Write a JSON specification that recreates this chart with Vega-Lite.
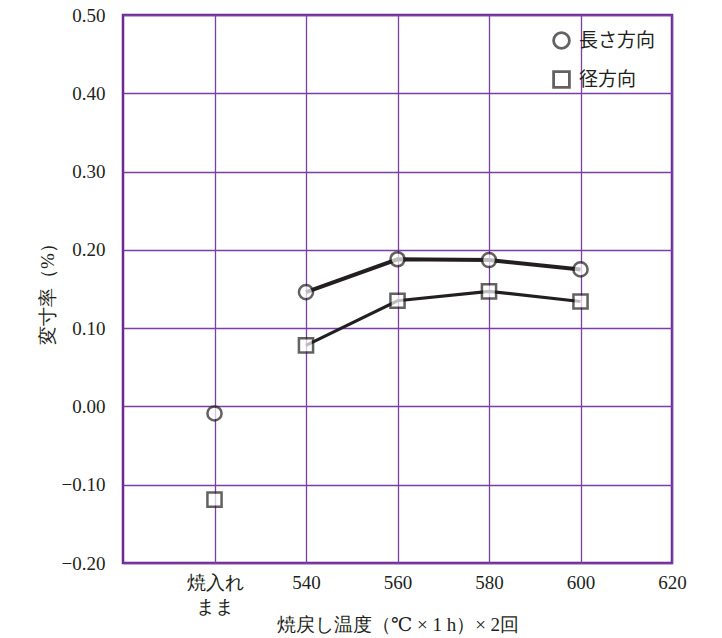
{
  "$schema": "https://vega.github.io/schema/vega-lite/v6.json",
  "autosize": {"type": "none"},
  "width": 549,
  "height": 548,
  "padding": {"left": 123, "top": 15, "right": 50, "bottom": 75},
  "background": "white",
  "config": {
    "view": {"stroke": "#6a2a93", "strokeWidth": 2.5},
    "font": "Liberation Serif, DejaVu Serif, serif"
  },
  "data": {
    "values": [
      {"temp": 520, "dir": "長さ方向", "value": -0.009},
      {"temp": 540, "dir": "長さ方向", "value": 0.146},
      {"temp": 560, "dir": "長さ方向", "value": 0.188},
      {"temp": 580, "dir": "長さ方向", "value": 0.187},
      {"temp": 600, "dir": "長さ方向", "value": 0.175},
      {"temp": 520, "dir": "径方向", "value": -0.119},
      {"temp": 540, "dir": "径方向", "value": 0.078},
      {"temp": 560, "dir": "径方向", "value": 0.135},
      {"temp": 580, "dir": "径方向", "value": 0.147},
      {"temp": 600, "dir": "径方向", "value": 0.134}
    ]
  },
  "encoding": {
    "x": {
      "field": "temp", "type": "quantitative",
      "scale": {"domain": [500, 620], "nice": false, "zero": false},
      "axis": {
        "values": [520, 540, 560, 580, 600, 620],
        "labelExpr": "datum.value == 520 ? ['焼入れ', 'まま'] : datum.label",
        "title": "焼戻し温度（℃ × 1 h）× 2回",
        "domain": false, "ticks": false,
        "grid": true, "gridColor": "#7b3ea6", "gridWidth": 1.3, "gridOpacity": 1,
        "labelFont": "Liberation Serif, DejaVu Serif, serif", "labelFontSize": 19, "labelColor": "#231f20",
        "labelPadding": 10, "labelLineHeight": 24, "labelFlush": false,
        "titleFont": "Liberation Serif, DejaVu Serif, serif", "titleFontSize": 19, "titleFontWeight": "normal", "titleColor": "#231f20",
        "titlePadding": -1
      }
    },
    "y": {
      "field": "value", "type": "quantitative",
      "scale": {"domain": [-0.2, 0.5], "nice": false, "zero": false},
      "axis": {
        "values": [-0.2, -0.1, 0, 0.1, 0.2, 0.3, 0.4, 0.5],
        "format": ".2f",
        "title": "変寸率（%）",
        "domain": false, "ticks": false,
        "grid": true, "gridColor": "#7b3ea6", "gridWidth": 1.3, "gridOpacity": 1,
        "labelFont": "Liberation Serif, DejaVu Serif, serif", "labelFontSize": 19, "labelColor": "#231f20",
        "labelPadding": 18, "labelFlush": false,
        "titleFont": "Liberation Serif, DejaVu Serif, serif", "titleFontSize": 19, "titleFontWeight": "normal", "titleColor": "#231f20",
        "titlePadding": 4
      }
    }
  },
  "layer": [
    {
      "transform": [{"filter": "datum.temp > 520 && datum.dir == '長さ方向'"}],
      "mark": {"type": "line", "color": "#231f20", "strokeWidth": 4},
      "encoding": {}
    },
    {
      "transform": [{"filter": "datum.temp > 520 && datum.dir == '径方向'"}],
      "mark": {"type": "line", "color": "#231f20", "strokeWidth": 3.2},
      "encoding": {}
    },
    {
      "mark": {"type": "point", "color": "#231f20", "fill": "white", "strokeWidth": 2.5, "size": 200},
      "encoding": {
        "shape": {
          "field": "dir", "type": "nominal",
          "scale": {"domain": ["長さ方向", "径方向"], "range": ["circle", "square"]},
          "legend": {
            "title": null,
            "orient": "top-right",
            "offset": 16,
            "labelFont": "Noto Sans CJK JP",
            "labelFontSize": 19,
            "labelColor": "#231f20",
            "symbolSize": 250,
            "symbolStrokeWidth": 2.8,
            "labelOffset": 8,
            "rowPadding": 10
          }
        }
      }
    }
  ]
}
